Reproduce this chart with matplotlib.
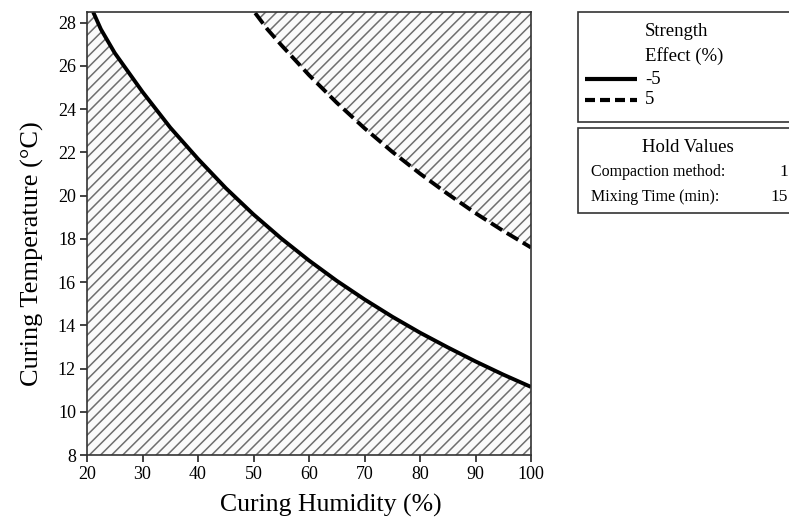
"""Contour overlay of strength effect vs curing humidity and temperature."""

import numpy as np
import matplotlib

matplotlib.use("Agg")
import matplotlib.pyplot as plt
from matplotlib.patches import Rectangle
from matplotlib.lines import Line2D

# contour for strength effect -5 %
hum_lo = [21.1, 22.5, 25, 27.5, 30, 35, 40, 45, 50, 55, 60, 65, 70, 75, 80,
          85, 90, 95, 100]
temp_lo = [28.5, 27.7, 26.6, 25.7, 24.8, 23.15, 21.7, 20.35, 19.13, 18.02,
           17.0, 16.06, 15.2, 14.4, 13.66, 12.98, 12.33, 11.72, 11.15]

# contour for strength effect 5 %
hum_hi = [50.3, 52.5, 55, 60, 65, 70, 75, 80, 85, 90, 95, 100]
temp_hi = [28.45, 27.7, 26.97, 25.58, 24.3, 23.12, 22.03, 21.02, 20.08,
           19.19, 18.37, 17.6]

x_ticks = [20, 30, 40, 50, 60, 70, 80, 90, 100]
y_ticks = [8, 10, 12, 14, 16, 18, 20, 22, 24, 26, 28]
X_MIN, X_MAX = 20, 100
Y_MIN, Y_MAX = 8, 28.5

legend_title = "Strength\nEffect (%)"
legend_labels = ["-5", "5"]
hold_names = ["Compaction method:", "Mixing Time (min):"]
hold_values = ["1", "15"]

plt.rcParams["font.family"] = ["Liberation Serif", "DejaVu Serif"]
plt.rcParams["hatch.linewidth"] = 1.1

figure = plt.figure(figsize=(7.89, 5.20), dpi=100)
axis = figure.add_axes([0.1103, 0.125, 0.5627, 0.852])

grid = np.linspace(X_MIN, X_MAX, 800)
low_curve = np.interp(grid, hum_lo, temp_lo, left=Y_MAX)
axis.fill_between(grid, Y_MIN, low_curve, facecolor="#fafafa",
                  edgecolor="#6e6e6e", linewidth=0, hatch="///")

mask = grid >= hum_hi[0]
high_curve = np.interp(grid[mask], hum_hi, temp_hi)
axis.fill_between(grid[mask], high_curve, Y_MAX, facecolor="#fafafa",
                  edgecolor="#6e6e6e", linewidth=0, hatch="///")

axis.plot(hum_lo, temp_lo, "-", color="black", linewidth=2.8,
          solid_capstyle="butt", solid_joinstyle="round")
axis.plot(hum_hi, temp_hi, "--", color="black", linewidth=2.8,
          dashes=(3.4, 1.4), dash_capstyle="butt")

axis.set_xlim(X_MIN, X_MAX)
axis.set_ylim(Y_MIN, Y_MAX)
axis.set_xticks(x_ticks)
axis.set_yticks(y_ticks)
axis.tick_params(direction="out", length=5, width=1.2, labelsize=13,
                 colors="#222222", labelcolor="black", pad=3)
for spine in axis.spines.values():
    spine.set_linewidth(1.2)
    spine.set_color("#333333")

axis.set_xlabel("Curing Humidity (%)", fontsize=18.5, labelpad=8)
axis.set_ylabel("Curing Temperature (\u00b0C)", fontsize=19, labelpad=10)
axis.xaxis.label.set_x(0.55)
axis.yaxis.label.set_y(0.455)

# legend boxes drawn in pixel coordinates of the figure
W, H = 789.0, 520.0


def fx(px):
    return px / W


def fy(py):
    return 1 - py / H


box_style = dict(transform=figure.transFigure, facecolor="white",
                 edgecolor="#333333", linewidth=1.2)
figure.add_artist(Rectangle((fx(578), fy(122)), fx(230), (122 - 12) / H, **box_style))
figure.add_artist(Rectangle((fx(578), fy(213)), fx(230), (213 - 128) / H, **box_style))

title_lines = legend_title.split("\n")
figure.text(fx(645), fy(31), title_lines[0], fontsize=13.5, va="center")
figure.text(fx(645), fy(56), title_lines[1], fontsize=13.5, va="center")
styles = [dict(linestyle="-"), dict(linestyle="--", dashes=(2.4, 1.2))]
for row, (label, style) in enumerate(zip(legend_labels, styles)):
    yy = fy(79 + row * 21)
    figure.add_artist(Line2D([fx(585), fx(637)], [yy, yy], color="black",
                             linewidth=3, transform=figure.transFigure,
                             solid_capstyle="butt", dash_capstyle="butt", **style))
    figure.text(fx(645), yy, label, fontsize=13.5, va="center")

figure.text(fx(688), fy(147), "Hold Values", fontsize=13.5, va="center", ha="center")
for row, (name, value) in enumerate(zip(hold_names, hold_values)):
    yy = fy(172 + row * 25)
    figure.text(fx(591), yy, name, fontsize=11.5, va="center")
    figure.text(fx(788), yy, value, fontsize=12.5, va="center", ha="right")

figure.savefig("out.png", dpi=100)
